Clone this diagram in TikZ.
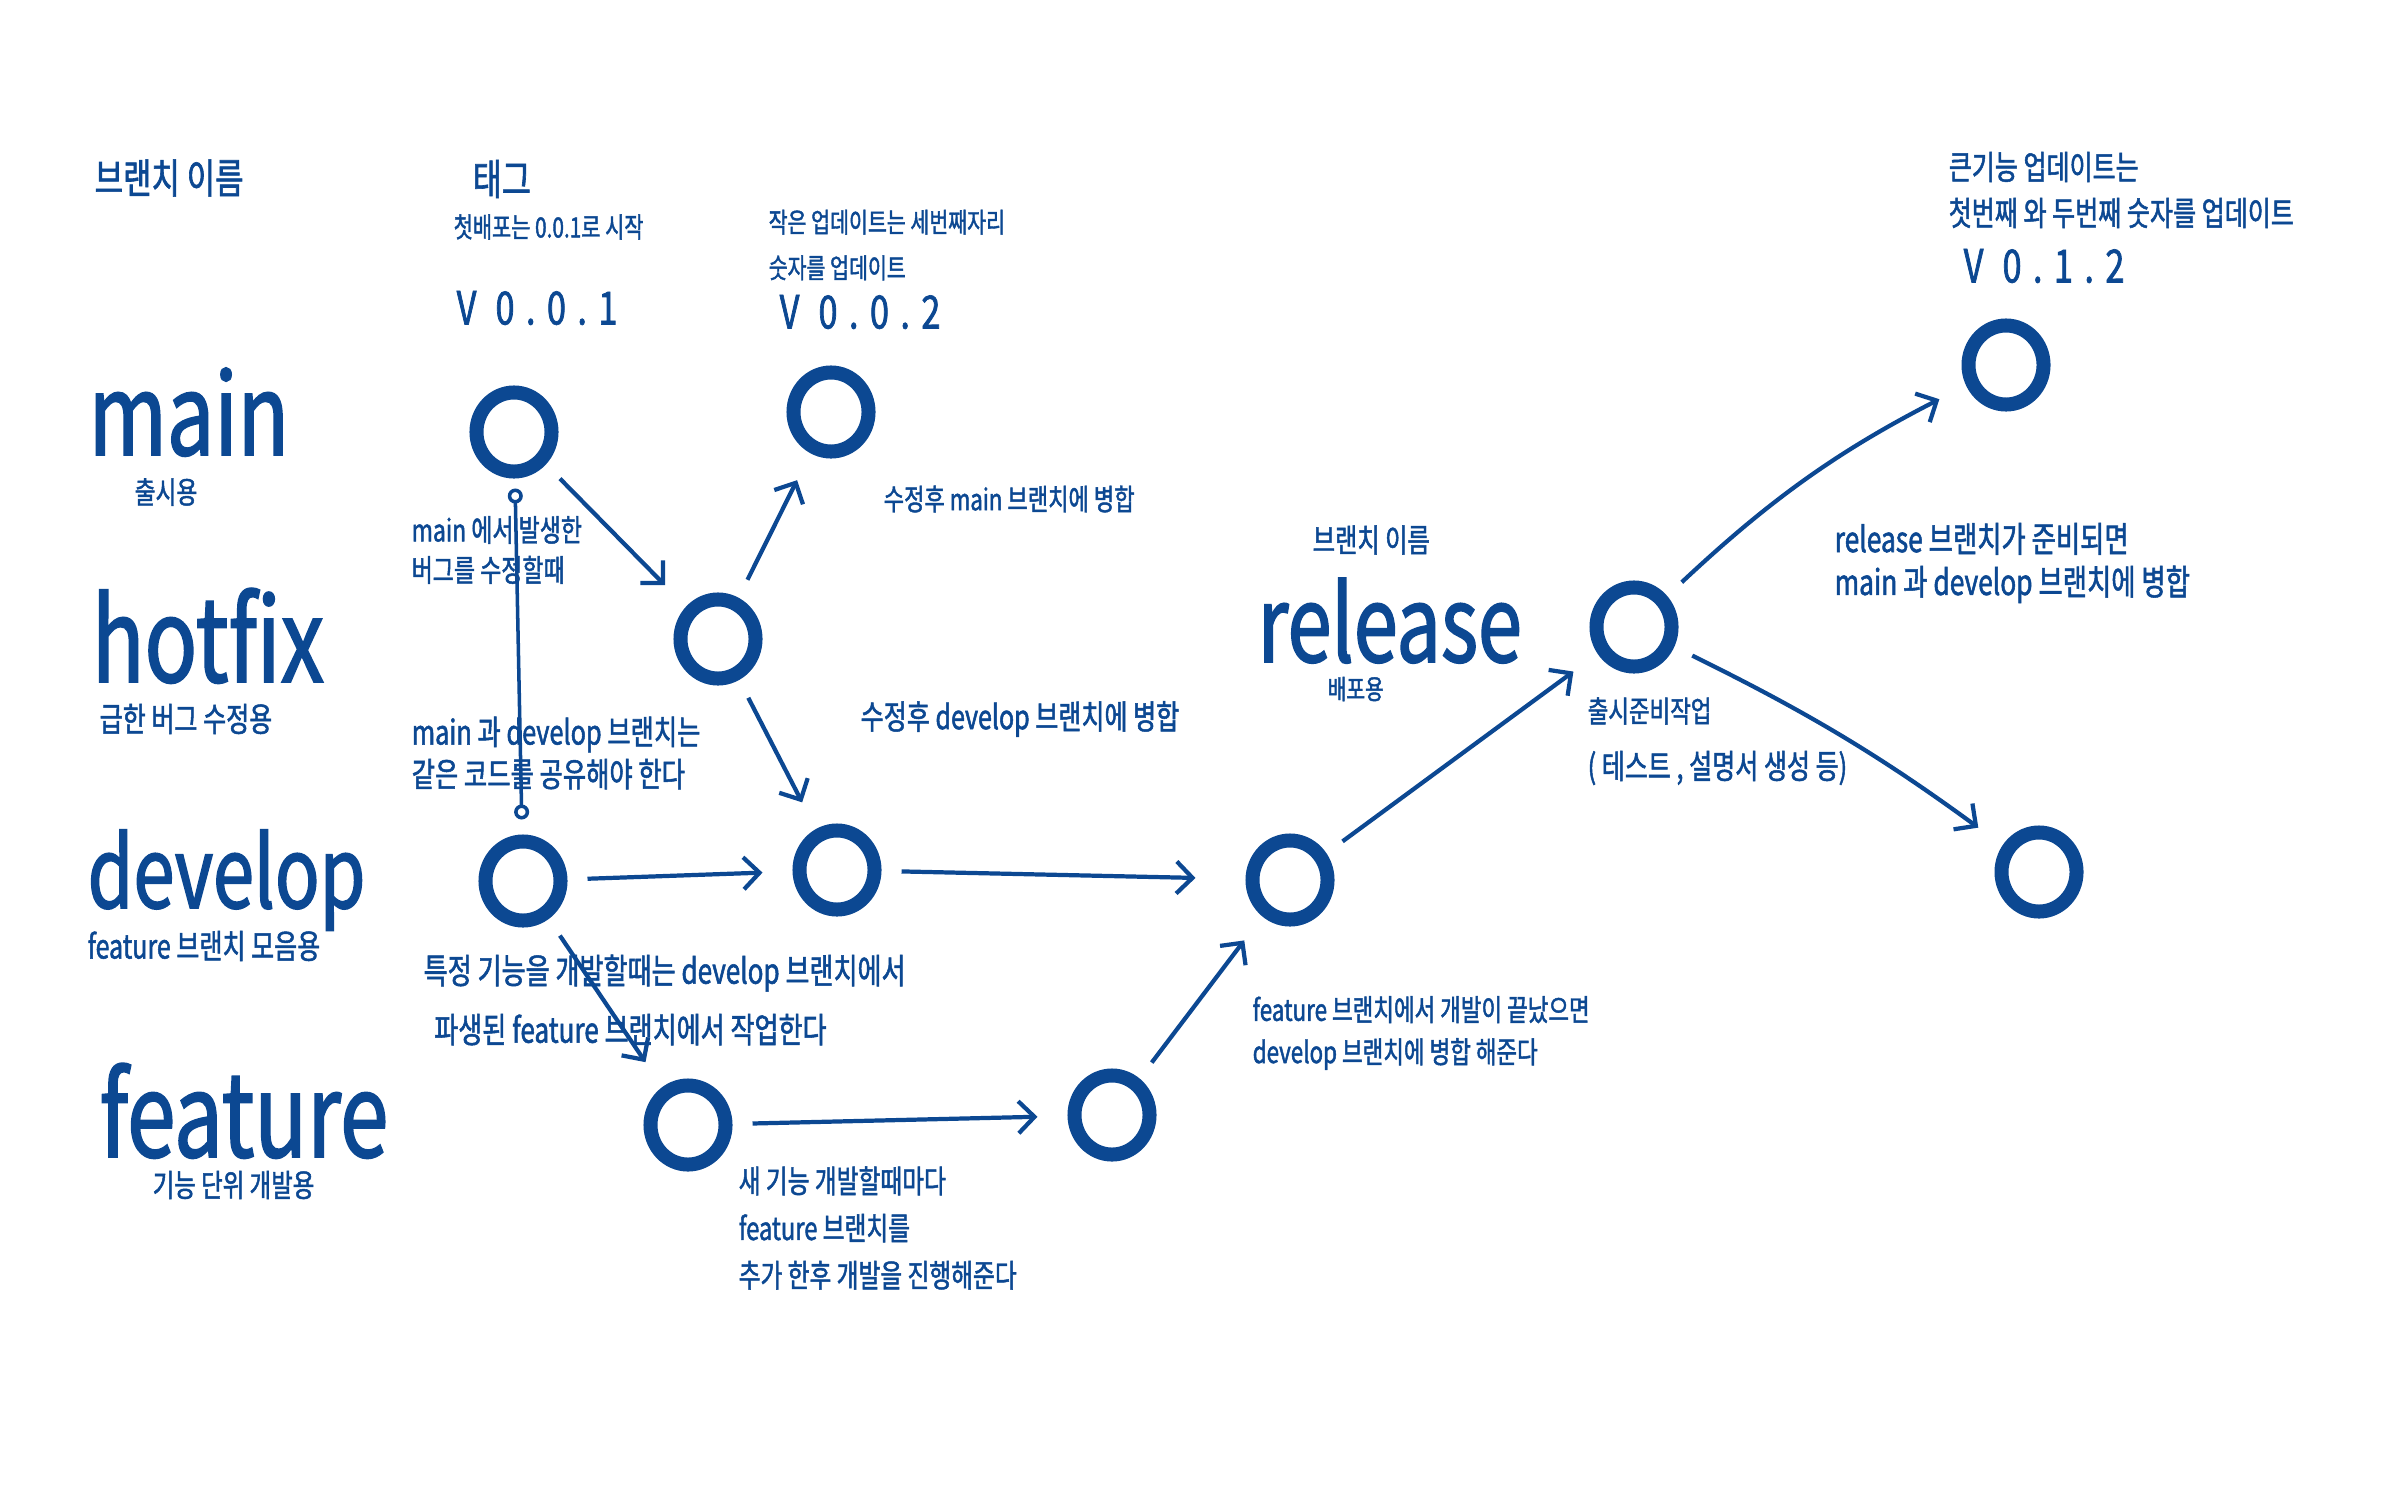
\documentclass[tikz,border=0pt]{standalone}
\usepackage{fontspec}
\newfontfamily\hand{Noto Sans CJK KR}[FakeStretch=0.75, FakeBold=1.5]
\newfontfamily\handwide{Noto Sans CJK KR}[FakeStretch=0.75, FakeBold=1.5, LetterSpace=25]
\usetikzlibrary{arrows.meta,shapes.geometric}
\definecolor{ink}{RGB}{12,72,146}
\newcommand\inksize[2]{\fontsize{#1}{#2}\selectfont}

\begin{document}
\begin{tikzpicture}[x=0.01cm, y=-0.01cm,
	commit/.style={ellipse, draw=ink, line width=0.14cm, minimum width=0.75cm, minimum height=0.79cm, inner sep=0pt},
	note/.style={anchor=west, align=left, inner sep=0pt, text=ink},
	word/.style={anchor=base west, inner sep=0pt, text=ink},
	merge/.style={draw=ink, line width=1.2pt, -{Straight Barb[length=1.6mm,width=3.2mm]}, shorten <=2mm, shorten >=3mm}]

		\fill[white] (0,0) rectangle (2386,1491);
		\useasboundingbox (0,0) rectangle (2386,1491);

		\node[note, font=\hand\inksize{11.7}{14}] (hd1) at (94,178) {브랜치 이름};
		\node[note, font=\hand\inksize{12}{14}] (hd2) at (472,179) {태그};
		\node[note, font=\hand\inksize{7.9}{10}] (tag1) at (453,227) {첫배포는 0.0.1로 시작};
		\node[note, font=\handwide\inksize{13}{16}] (v1) at (456,308) {V 0.0.1};
		\node[note, font=\hand\inksize{7.8}{13}] (tag2) at (768,245) {작은 업데이트는 세번째자리\\숫자를 업데이트};
		\node[note, font=\handwide\inksize{13}{16}] (v2) at (779,312) {V 0.0.2};
		\node[note, font=\hand\inksize{9.5}{13.1}] (tag3) at (1948,190) {큰기능 업데이트는\\첫번째 와 두번째 숫자를 업데이트};
		\node[note, font=\handwide\inksize{13}{16}] (v3) at (1963,266) {V 0.1.2};

		\node[word, font=\hand\inksize{32}{36}] (bmain) at (88,455) {main};
		\node[note, font=\hand\inksize{8.6}{10}] (smain) at (134,492) {출시용};
		\node[word, font=\hand\inksize{33}{36}] (bhot) at (91,682) {hotfix};
		\node[note, font=\hand\inksize{9.5}{11}] (shot) at (99,719) {급한 버그 수정용};
		\node[word, font=\hand\inksize{28}{32}] (bdev) at (87,908) {develop};
		\node[note, font=\hand\inksize{9.5}{11}] (sdev) at (87,946) {feature 브랜치 모음용};
		\node[word, font=\hand\inksize{33}{36}] (bfeat) at (99,1157) {feature};
		\node[note, font=\hand\inksize{8.9}{11}] (sfeat) at (152,1185) {기능 단위 개발용};
		\node[note, font=\hand\inksize{9.2}{11}] (hd3) at (1312,540) {브랜치 이름};
		\node[word, font=\hand\inksize{30}{34}] (brel) at (1257,662) {release};
		\node[note, font=\hand\inksize{7.7}{10}] (srel) at (1327,689) {배포용};

		\node[note, font=\hand\inksize{8.7}{11.4}] (n1) at (411,550) {main 에서 발생한\\버그를 수정할때};
		\node[note, font=\hand\inksize{8.4}{10}] (n2) at (883,499) {수정후 main 브랜치에 병합};
		\node[note, font=\hand\inksize{9.5}{11}] (n3) at (860,719) {수정후 develop 브랜치에 병합};
		\node[note, font=\hand\inksize{9.6}{12}] (n4) at (411,753) {main 과 develop 브랜치는\\같은 코드를 공유해야 한다};
		\node[note, font=\hand\inksize{9.9}{16.8}] (n5) at (423,1000) {특정 기능을 개발할때는 develop 브랜치에서\\\hspace{3pt}파생된 feature 브랜치에서 작업한다};
		\node[note, font=\hand\inksize{9}{13.4}] (n6) at (738,1228) {새 기능 개발할때마다\\feature 브랜치를\\추가 한후 개발을 진행해준다};
		\node[note, font=\hand\inksize{8.5}{12}] (n7) at (1252,1033) {feature 브랜치에서 개발이 끝났으면\\develop 브랜치에 병합 해준다};
		\node[note, font=\hand\inksize{8.5}{10}] (n8) at (1587,711) {출시준비작업};
		\node[note, font=\hand\inksize{9.5}{11}] (n9) at (1587,768) {( 테스트 , 설명서 생성 등)};
		\node[note, font=\hand\inksize{10}{12.2}] (n10) at (1834,563) {release 브랜치가 준비되면\\main 과 develop 브랜치에 병합};

		\node[commit] (m1) at (514,432) {};
		\node[commit] (m2) at (831,412) {};
		\node[commit] (h1) at (718,639) {};
		\node[commit] (d1) at (523,881) {};
		\node[commit] (d2) at (837,870) {};
		\node[commit] (d3) at (1290,880) {};
		\node[commit] (f1) at (688,1125) {};
		\node[commit] (f2) at (1112,1115) {};
		\node[commit] (r1) at (1634,627) {};
		\node[commit] (m3) at (2006,365) {};
		\node[commit] (d4) at (2039,872) {};

		\draw[merge] (m1) -- (h1);
		\draw[merge] (h1) -- (m2);
		\draw[merge] (h1) -- (d2);
		\draw[merge] (d1) -- (d2);
		\draw[merge, shorten >=5mm] (d2) -- (d3);
		\draw[merge] (d1) -- (f1);
		\draw[merge] (f1) -- (f2);
		\draw[merge] (f2) -- (d3);
		\draw[merge] (d3) -- (r1);
		\draw[merge] (r1) to[bend left=8] (m3);
		\draw[merge] (r1) to[bend left=5] (d4);
		\draw[draw=ink, line width=1pt, {Circle[open,length=1.5mm,fill=white]}-{Circle[open,length=1.5mm,fill=white]}, shorten <=1mm, shorten >=1.5mm] (m1) -- (d1);
	\end{tikzpicture}
\end{document}
